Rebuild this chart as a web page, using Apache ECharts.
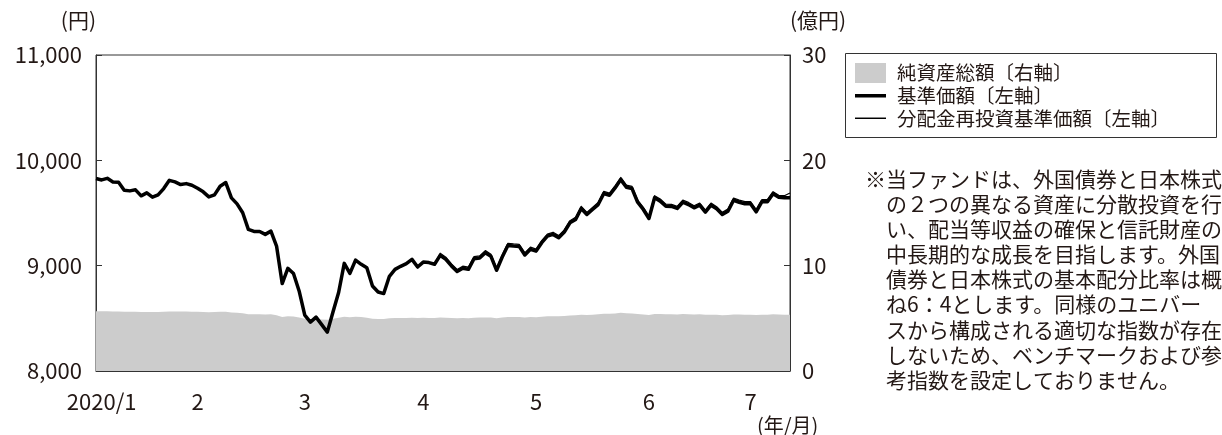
<!DOCTYPE html>
<html lang="ja">
<head>
<meta charset="utf-8">
<title>基準価額・純資産総額の推移</title>
<script src="https://cdn.jsdelivr.net/npm/echarts@6/dist/echarts.min.js"></script>
<style>
  html, body { margin: 0; padding: 0; background: #ffffff; }
  #chart { width: 1222px; height: 435px; }
</style>
</head>
<body>
<div id="chart"></div>
<script>
// Business days, 2020/1/21 – 2020/7/21
const dates = [
  '2020/1/21','2020/1/22','2020/1/23','2020/1/24','2020/1/27','2020/1/28','2020/1/29','2020/1/30','2020/1/31',
  '2020/2/3','2020/2/4','2020/2/5','2020/2/6','2020/2/7','2020/2/10','2020/2/12','2020/2/13','2020/2/14',
  '2020/2/17','2020/2/18','2020/2/19','2020/2/20','2020/2/21','2020/2/25','2020/2/26','2020/2/27','2020/2/28',
  '2020/3/2','2020/3/3','2020/3/4','2020/3/5','2020/3/6','2020/3/9','2020/3/10','2020/3/11','2020/3/12',
  '2020/3/13','2020/3/16','2020/3/17','2020/3/18','2020/3/19','2020/3/23','2020/3/24','2020/3/25','2020/3/26',
  '2020/3/27','2020/3/30','2020/3/31',
  '2020/4/1','2020/4/2','2020/4/3','2020/4/6','2020/4/7','2020/4/8','2020/4/9','2020/4/10','2020/4/13',
  '2020/4/14','2020/4/15','2020/4/16','2020/4/17','2020/4/20','2020/4/21','2020/4/22','2020/4/23','2020/4/24',
  '2020/4/27','2020/4/28','2020/4/30',
  '2020/5/1','2020/5/7','2020/5/8','2020/5/11','2020/5/12','2020/5/13','2020/5/14','2020/5/15','2020/5/18',
  '2020/5/19','2020/5/20','2020/5/21','2020/5/22','2020/5/25','2020/5/26','2020/5/27','2020/5/28','2020/5/29',
  '2020/6/1','2020/6/2','2020/6/3','2020/6/4','2020/6/5','2020/6/8','2020/6/9','2020/6/10','2020/6/11',
  '2020/6/12','2020/6/15','2020/6/16','2020/6/17','2020/6/18','2020/6/19','2020/6/22','2020/6/23','2020/6/24',
  '2020/6/25','2020/6/26','2020/6/29','2020/6/30',
  '2020/7/1','2020/7/2','2020/7/3','2020/7/6','2020/7/7','2020/7/8','2020/7/9','2020/7/10','2020/7/13',
  '2020/7/14','2020/7/15','2020/7/16','2020/7/17','2020/7/20','2020/7/21'
];

// 基準価額 (円)
const navValues = [
  9827, 9814, 9829, 9795, 9791, 9716, 9710, 9720, 9663,
  9691, 9650, 9672, 9732, 9810, 9795, 9770, 9779, 9763, 9735, 9701, 9653, 9672, 9754, 9789, 9644, 9587, 9502,
  9344, 9325, 9325, 9297, 9328, 9186, 8830, 8975, 8925, 8760, 8530, 8464, 8511, 8440, 8369, 8560, 8745, 9022, 8927, 9053, 9013,
  8981, 8807, 8750, 8735, 8899, 8965, 8994, 9019, 9060, 8987, 9034, 9029, 9013, 9098, 9060, 8997, 8944, 8975, 8965, 9066, 9072,
  9123, 9088, 8956, 9082, 9192, 9186, 9183, 9101, 9155, 9138, 9218, 9280, 9297, 9265, 9320, 9407, 9438, 9543,
  9486, 9533, 9580, 9685, 9669, 9738, 9817, 9744, 9732, 9602, 9533, 9448, 9644, 9612, 9564, 9562, 9543, 9602, 9580, 9549, 9574, 9508,
  9574, 9540, 9486, 9517, 9621, 9602, 9587, 9587, 9511, 9606, 9606, 9682, 9650, 9644, 9644
];

// 分配金再投資基準価額 (円)
const reinvestValues = [
  9827, 9814, 9829, 9795, 9791, 9716, 9710, 9720, 9663,
  9691, 9650, 9672, 9732, 9810, 9795, 9770, 9779, 9763, 9735, 9701, 9653, 9672, 9754, 9789, 9644, 9587, 9502,
  9344, 9325, 9325, 9297, 9328, 9186, 8830, 8975, 8925, 8760, 8530, 8464, 8511, 8440, 8369, 8560, 8745, 9022, 8927, 9053, 9013,
  8981, 8807, 8750, 8735, 8899, 8965, 8994, 9019, 9060, 8987, 9034, 9029, 9013, 9118, 9080, 9017, 8964, 8995, 8985, 9086, 9092,
  9143, 9108, 8976, 9102, 9212, 9206, 9203, 9121, 9175, 9158, 9238, 9300, 9317, 9285, 9340, 9427, 9458, 9563,
  9506, 9553, 9600, 9705, 9689, 9758, 9837, 9764, 9752, 9622, 9553, 9468, 9664, 9632, 9584, 9582, 9563, 9622, 9600, 9569, 9594, 9528,
  9594, 9560, 9506, 9537, 9641, 9622, 9607, 9607, 9531, 9626, 9626, 9702, 9668, 9664, 9690
];

// 純資産総額 (億円)
const netAssets = [
  5.68, 5.67, 5.68, 5.66, 5.66, 5.63, 5.62, 5.63, 5.60,
  5.61, 5.60, 5.61, 5.63, 5.66, 5.65, 5.64, 5.64, 5.63, 5.62, 5.60, 5.58, 5.59, 5.62, 5.63, 5.56, 5.53, 5.48,
  5.39, 5.38, 5.38, 5.36, 5.38, 5.30, 5.12, 5.19, 5.17, 5.08, 4.96, 4.92, 4.95, 4.90, 4.86, 4.97, 5.06, 5.15, 5.10, 5.15, 5.12,
  5.06, 4.97, 4.94, 4.93, 5.00, 5.02, 5.03, 5.04, 5.06, 5.02, 5.05, 5.04, 5.03, 5.08, 5.06, 5.03, 5.00, 5.02, 5.01, 5.06, 5.07,
  5.09, 5.07, 5.00, 5.07, 5.13, 5.13, 5.13, 5.09, 5.12, 5.11, 5.16, 5.19, 5.20, 5.19, 5.22, 5.27, 5.29, 5.35,
  5.32, 5.35, 5.38, 5.44, 5.43, 5.47, 5.52, 5.48, 5.47, 5.40, 5.36, 5.31, 5.42, 5.40, 5.38, 5.38, 5.37, 5.40, 5.39, 5.37, 5.38, 5.35,
  5.35, 5.33, 5.30, 5.32, 5.37, 5.36, 5.35, 5.35, 5.31, 5.35, 5.35, 5.39, 5.37, 5.34, 5.34
];

const leftTicks = [8000, 9000, 10000, 11000];
const rightTicks = [0, 10, 20, 30];

const seriesNames = ['純資産総額〔右軸〕', '基準価額〔左軸〕', '分配金再投資基準価額〔左軸〕'];

const noteLines = [
  '※当ファンドは、外国債券と日本株式',
  'の２つの異なる資産に分散投資を行',
  'い、配当等収益の確保と信託財産の',
  '中長期的な成長を目指します。外国',
  '債券と日本株式の基本配分比率は概',
  'ね6：4とします。同様のユニバー',
  'スから構成される適切な指数が存在',
  'しないため、ベンチマークおよび参',
  '考指数を設定しておりません。'
];

const FONT = '"Noto Sans CJK JP", "Noto Sans", sans-serif';
const INK = '#231815';

// month start indices and a centred label position for each month
const monthStart = [];
const monthOf = dates.map(d => Number(d.split('/')[1]));
monthOf.forEach((m, i) => { if (i === 0 || m !== monthOf[i - 1]) monthStart.push(i); });
const labelAt = {};
monthStart.forEach((s, k) => {
  const e = (k + 1 < monthStart.length ? monthStart[k + 1] : dates.length) - 1;
  const idx = k === 0 ? 1 : Math.round((s + e) / 2);
  labelAt[idx] = k === 0 ? '2020/' + monthOf[s] : String(monthOf[s]);
});
const tickSet = new Set(monthStart.filter(i => i > 0));

const chart = echarts.init(document.getElementById('chart'), null, { renderer: 'canvas' });

chart.setOption({
  animation: false,
  backgroundColor: '#ffffff',
  textStyle: { fontFamily: FONT, color: INK },
  grid: {
    left: 96, right: 432, top: 55, bottom: 63,
    show: true, borderColor: '#333333', borderWidth: 1, backgroundColor: 'transparent'
  },
  legend: {
    orient: 'vertical',
    left: 855, top: 63,
    padding: 0,
    itemGap: 3,
    itemWidth: 31, itemHeight: 20,
    textStyle: { fontFamily: FONT, fontSize: 19.5, color: INK, padding: [0, 0, 0, 6] },
    data: [
      { name: seriesNames[0], icon: 'rect', itemStyle: { color: '#cccccc' } },
      { name: seriesNames[1], icon: 'path://M0,0L30,0L30,3.4L0,3.4Z' },
      { name: seriesNames[2], icon: 'path://M0,0L30,0L30,1.4L0,1.4Z' }
    ]
  },
  xAxis: {
    type: 'category',
    data: dates,
    boundaryGap: false,
    name: '(年/月)',
    nameLocation: 'end',
    nameGap: -33,
    nameTextStyle: { fontFamily: FONT, fontSize: 20, color: INK, verticalAlign: 'top', padding: [44, 0, 0, 0] },
    axisLine: { show: true, lineStyle: { color: '#333333', width: 1 } },
    axisTick: {
      show: true, inside: true, length: 6,
      interval: (i) => tickSet.has(i),
      lineStyle: { color: '#333333', width: 1 }
    },
    axisLabel: {
      interval: (i) => labelAt[i] !== undefined,
      formatter: (v, i) => labelAt[i] || '',
      margin: 20, fontSize: 22, color: INK, fontFamily: FONT
    },
    splitLine: { show: false }
  },
  yAxis: [
    {
      type: 'value',
      min: leftTicks[0], max: leftTicks[leftTicks.length - 1],
      interval: leftTicks[1] - leftTicks[0],
      name: '(円)',
      nameLocation: 'end',
      nameGap: 24,
      nameTextStyle: { fontFamily: FONT, fontSize: 21, color: INK, align: 'right' },
      axisLine: { show: true, lineStyle: { color: '#333333', width: 1 } },
      axisTick: { show: true, inside: true, length: 6, lineStyle: { color: '#333333' } },
      axisLabel: {
        margin: 14, fontSize: 22, color: INK, fontFamily: FONT,
        formatter: v => v.toLocaleString('en-US')
      },
      splitLine: { show: false }
    },
    {
      type: 'value',
      position: 'right',
      min: rightTicks[0], max: rightTicks[rightTicks.length - 1],
      interval: rightTicks[1] - rightTicks[0],
      name: '(億円)',
      nameLocation: 'end',
      nameGap: 24,
      nameTextStyle: { fontFamily: FONT, fontSize: 21, color: INK, align: 'left' },
      axisLine: { show: true, lineStyle: { color: '#333333', width: 1 } },
      axisTick: { show: true, inside: true, length: 6, lineStyle: { color: '#333333' } },
      axisLabel: { margin: 12, fontSize: 22, color: INK, fontFamily: FONT },
      splitLine: { show: false }
    }
  ],
  series: [
    {
      name: seriesNames[0],
      type: 'line',
      yAxisIndex: 1,
      data: netAssets,
      symbol: 'none',
      itemStyle: { color: '#cccccc' },
      lineStyle: { width: 0, color: '#cccccc' },
      areaStyle: { color: '#cccccc', opacity: 1 },
      z: 1
    },
    {
      name: seriesNames[1],
      type: 'line',
      yAxisIndex: 0,
      data: navValues,
      symbol: 'none',
      itemStyle: { color: '#000000' },
      lineStyle: { width: 3.5, color: '#000000', join: 'round' },
      z: 3
    },
    {
      name: seriesNames[2],
      type: 'line',
      yAxisIndex: 0,
      data: reinvestValues,
      symbol: 'none',
      itemStyle: { color: '#000000' },
      lineStyle: { width: 1.3, color: '#000000', join: 'round' },
      z: 4
    }
  ],
  graphic: [
    // legend frame
    {
      type: 'rect',
      shape: { x: 845.5, y: 53.5, width: 371, height: 84 },
      style: { fill: 'none', stroke: '#333333', lineWidth: 1 },
      silent: true
    }
  ].concat(noteLines.map((t, i) => ({
    type: 'text',
    x: i === 0 ? 865 : 886,
    y: 179 + i * 25.1,
    style: {
      text: t,
      fill: INK,
      fontFamily: FONT,
      fontSize: 21,
      verticalAlign: 'middle'
    }
  })))
});
</script>
</body>
</html>
